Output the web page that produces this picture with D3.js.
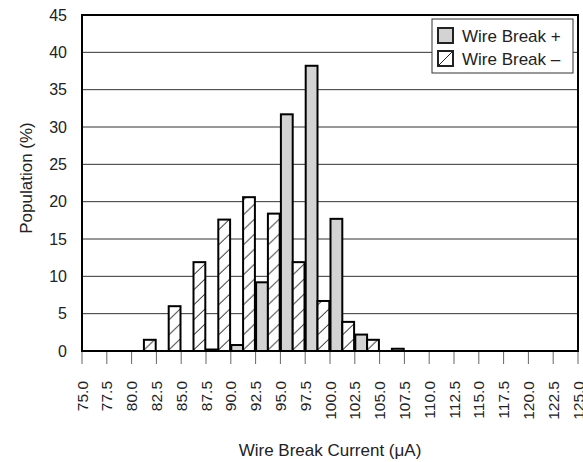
<!DOCTYPE html>
<html lang="en">
<head>
<meta charset="utf-8">
<title>Wire Break Current</title>
<script src="https://d3js.org/d3.v7.min.js"></script>
<style>
  body { margin: 0; background: #fff; }
  text { font-family: "Liberation Sans", Arial, sans-serif; fill: #222; }
</style>
</head>
<body>
<script>
// bin starts (uA), tick labels and two series (%)
var bins = [75, 77.5, 80, 82.5, 85, 87.5, 90, 92.5, 95, 97.5, 100, 102.5, 105, 107.5, 110, 112.5, 115, 117.5, 120, 122.5];
var tickLabels = ["75.0", "77.5", "80.0", "82.5", "85.0", "87.5", "90.0", "92.5", "95.0", "97.5", "100.0",
                  "102.5", "105.0", "107.5", "110.0", "112.5", "115.0", "117.5", "120.0", "122.5", "125.0"];
var wirePlus  = [0, 0, 0, 0, 0, 0.2, 0.8, 9.2, 31.7, 38.2, 17.7, 2.2, 0, 0, 0, 0, 0, 0, 0, 0];
var wireMinus = [0, 0, 1.5, 6.0, 11.9, 17.6, 20.6, 18.4, 11.9, 6.7, 3.9, 1.5, 0.3, 0, 0, 0, 0, 0, 0, 0];
var yTicks = [0, 5, 10, 15, 20, 25, 30, 35, 40, 45];

var width = 583, height = 462;
var plotLeft = 82, plotRight = 578, plotTop = 15, plotBottom = 351;

var x = d3.scaleLinear().domain([75, 125]).range([plotLeft, plotRight]);
var y = d3.scaleLinear().domain([0, 45]).range([plotBottom, plotTop]);
var step = x(77.5) - x(75);

var svg = d3.select("body").append("svg")
    .attr("width", width)
    .attr("height", height);

// hatch pattern lined up with the right half of every bin
var defs = svg.append("defs");
var pat = defs.append("pattern")
    .attr("id", "hatch")
    .attr("patternUnits", "userSpaceOnUse")
    .attr("x", x(75))
    .attr("y", plotBottom)
    .attr("width", step)
    .attr("height", 15);
pat.append("rect").attr("width", step).attr("height", 15).attr("fill", "#fff");
pat.append("line")
    .attr("x1", step / 2).attr("y1", 14)
    .attr("x2", step - 1).attr("y2", 3)
    .attr("stroke", "#222").attr("stroke-width", 1);

// gridlines
svg.append("g")
  .selectAll("line")
    .data(yTicks.slice(1, -1))
  .enter().append("line")
    .attr("x1", plotLeft).attr("x2", plotRight)
    .attr("y1", function(d) { return y(d); })
    .attr("y2", function(d) { return y(d); })
    .attr("stroke", "#333")
    .attr("stroke-width", 1);

// x tick marks
svg.append("g")
  .selectAll("line")
    .data(d3.range(tickLabels.length))
  .enter().append("line")
    .attr("x1", function(i) { return x(75 + 2.5 * i); })
    .attr("x2", function(i) { return x(75 + 2.5 * i); })
    .attr("y1", plotBottom).attr("y2", plotBottom + 13)
    .attr("stroke", "#666")
    .attr("stroke-width", 1);

var bw = step / 2 - 0.6;

// Wire Break + bars
svg.append("g")
  .selectAll("rect")
    .data(bins)
  .enter().append("rect")
    .attr("x", function(d) { return x(d) + 0.5; })
    .attr("y", function(d, i) { return y(wirePlus[i]); })
    .attr("width", bw)
    .attr("height", function(d, i) { return plotBottom - y(wirePlus[i]); })
    .attr("fill", "#d3d3d3")
    .attr("stroke", "#000")
    .attr("stroke-width", 2);

// Wire Break - bars
svg.append("g")
  .selectAll("rect")
    .data(bins)
  .enter().append("rect")
    .attr("x", function(d) { return x(d) + 0.5 + bw; })
    .attr("y", function(d, i) { return y(wireMinus[i]); })
    .attr("width", bw)
    .attr("height", function(d, i) { return plotBottom - y(wireMinus[i]); })
    .attr("fill", "url(#hatch)")
    .attr("stroke", "#000")
    .attr("stroke-width", 2);

// frame
svg.append("rect")
    .attr("x", plotLeft).attr("y", plotTop)
    .attr("width", plotRight - plotLeft).attr("height", plotBottom - plotTop)
    .attr("fill", "none")
    .attr("stroke", "#000")
    .attr("stroke-width", 2);

// y labels
svg.append("g")
  .selectAll("text")
    .data(yTicks)
  .enter().append("text")
    .attr("x", 67)
    .attr("y", function(d) { return y(d); })
    .attr("dy", "0.35em")
    .attr("text-anchor", "end")
    .style("font-size", "16px")
    .text(function(d) { return d; });

// x labels, rotated
svg.append("g")
  .selectAll("text")
    .data(tickLabels)
  .enter().append("text")
    .attr("transform", function(d, i) {
      return "translate(" + x(75 + 2.5 * i) + "," + 381 + ") rotate(-90)";
    })
    .attr("dy", "0.36em")
    .attr("text-anchor", "end")
    .style("font-size", "15.5px")
    .text(function(d) { return d; });

// axis titles
svg.append("text")
    .attr("x", (plotLeft + plotRight) / 2)
    .attr("y", 456)
    .attr("text-anchor", "middle")
    .style("font-size", "17px")
    .text("Wire Break Current (\u03bcA)");

svg.append("text")
    .attr("transform", "translate(32," + 178 + ") rotate(-90)")
    .attr("text-anchor", "middle")
    .style("font-size", "17px")
    .text("Population (%)");

// legend
var legend = svg.append("g").attr("transform", "translate(432,19)");
legend.append("rect")
    .attr("width", 141).attr("height", 54)
    .attr("fill", "#fff")
    .attr("stroke", "#333")
    .attr("stroke-width", 1);

var legendItems = [
  { label: "Wire Break +", fill: "#d3d3d3", hatch: false },
  { label: "Wire Break \u2013", fill: "#fff", hatch: true }
];

var item = legend.selectAll("g.item")
    .data(legendItems)
  .enter().append("g")
    .attr("class", "item")
    .attr("transform", function(d, i) { return "translate(6," + (9 + i * 23) + ")"; });

item.append("rect")
    .attr("width", 15).attr("height", 15)
    .attr("fill", function(d) { return d.fill; })
    .attr("stroke", "#222")
    .attr("stroke-width", 2);

item.filter(function(d) { return d.hatch; })
  .append("line")
    .attr("x1", 1).attr("y1", 14)
    .attr("x2", 14).attr("y2", 1)
    .attr("stroke", "#222")
    .attr("stroke-width", 1);

item.append("text")
    .attr("x", 24)
    .attr("y", 8)
    .attr("dy", "0.35em")
    .style("font-size", "17px")
    .text(function(d) { return d.label; });
</script>
</body>
</html>
